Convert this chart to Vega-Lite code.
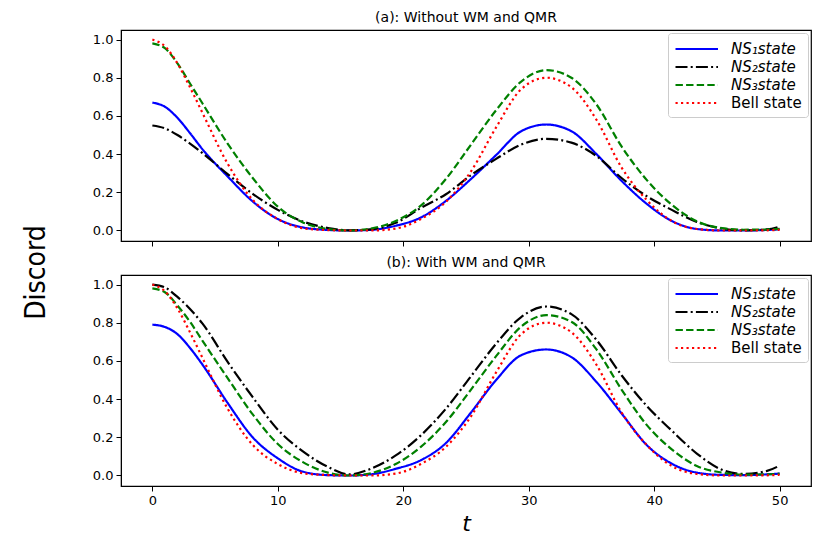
{
  "$schema": "https://vega.github.io/schema/vega-lite/v6.json",
  "padding": {"left": 22, "top": 10, "right": 5, "bottom": 5},
  "title": {
    "text": "Discord",
    "orient": "left",
    "anchor": "middle",
    "font": "Liberation Sans Narrow, DejaVu Sans Condensed, sans-serif",
    "fontSize": 28,
    "fontWeight": "normal",
    "color": "black",
    "offset": 41
  },
  "data": {
    "values": [
      {"p": "a", "s": "NS₁state", "t": 0, "v": 0.67},
      {"p": "a", "s": "NS₁state", "t": 1, "v": 0.648},
      {"p": "a", "s": "NS₁state", "t": 2, "v": 0.59},
      {"p": "a", "s": "NS₁state", "t": 3, "v": 0.51},
      {"p": "a", "s": "NS₁state", "t": 4, "v": 0.425},
      {"p": "a", "s": "NS₁state", "t": 6, "v": 0.283},
      {"p": "a", "s": "NS₁state", "t": 8, "v": 0.152},
      {"p": "a", "s": "NS₁state", "t": 10, "v": 0.06},
      {"p": "a", "s": "NS₁state", "t": 12, "v": 0.016},
      {"p": "a", "s": "NS₁state", "t": 14, "v": 0.003},
      {"p": "a", "s": "NS₁state", "t": 15.7, "v": 0},
      {"p": "a", "s": "NS₁state", "t": 17.4, "v": 0.003},
      {"p": "a", "s": "NS₁state", "t": 19.4, "v": 0.025},
      {"p": "a", "s": "NS₁state", "t": 21.4, "v": 0.068},
      {"p": "a", "s": "NS₁state", "t": 23.4, "v": 0.155},
      {"p": "a", "s": "NS₁state", "t": 25.4, "v": 0.27},
      {"p": "a", "s": "NS₁state", "t": 27.4, "v": 0.395},
      {"p": "a", "s": "NS₁state", "t": 29.4, "v": 0.52},
      {"p": "a", "s": "NS₁state", "t": 31.4, "v": 0.555},
      {"p": "a", "s": "NS₁state", "t": 33.4, "v": 0.52},
      {"p": "a", "s": "NS₁state", "t": 35.4, "v": 0.4},
      {"p": "a", "s": "NS₁state", "t": 37.4, "v": 0.26},
      {"p": "a", "s": "NS₁state", "t": 39.4, "v": 0.14},
      {"p": "a", "s": "NS₁state", "t": 41.4, "v": 0.05},
      {"p": "a", "s": "NS₁state", "t": 43.4, "v": 0.008},
      {"p": "a", "s": "NS₁state", "t": 45.4, "v": 0},
      {"p": "a", "s": "NS₁state", "t": 47.1, "v": 0},
      {"p": "a", "s": "NS₁state", "t": 49, "v": 0.003},
      {"p": "a", "s": "NS₁state", "t": 50, "v": 0.006},

      {"p": "a", "s": "NS₂state", "t": 0, "v": 0.55},
      {"p": "a", "s": "NS₂state", "t": 1, "v": 0.535},
      {"p": "a", "s": "NS₂state", "t": 2, "v": 0.5},
      {"p": "a", "s": "NS₂state", "t": 3, "v": 0.455},
      {"p": "a", "s": "NS₂state", "t": 4, "v": 0.405},
      {"p": "a", "s": "NS₂state", "t": 6, "v": 0.295},
      {"p": "a", "s": "NS₂state", "t": 8, "v": 0.192},
      {"p": "a", "s": "NS₂state", "t": 10, "v": 0.108},
      {"p": "a", "s": "NS₂state", "t": 12, "v": 0.047},
      {"p": "a", "s": "NS₂state", "t": 14, "v": 0.013},
      {"p": "a", "s": "NS₂state", "t": 15.7, "v": 0.001},
      {"p": "a", "s": "NS₂state", "t": 17.4, "v": 0.006},
      {"p": "a", "s": "NS₂state", "t": 19.4, "v": 0.04},
      {"p": "a", "s": "NS₂state", "t": 21.4, "v": 0.118},
      {"p": "a", "s": "NS₂state", "t": 23.4, "v": 0.19},
      {"p": "a", "s": "NS₂state", "t": 25.4, "v": 0.29},
      {"p": "a", "s": "NS₂state", "t": 27.4, "v": 0.375},
      {"p": "a", "s": "NS₂state", "t": 29.4, "v": 0.45},
      {"p": "a", "s": "NS₂state", "t": 31.4, "v": 0.48},
      {"p": "a", "s": "NS₂state", "t": 33.4, "v": 0.46},
      {"p": "a", "s": "NS₂state", "t": 35.4, "v": 0.39},
      {"p": "a", "s": "NS₂state", "t": 37.4, "v": 0.275},
      {"p": "a", "s": "NS₂state", "t": 39.4, "v": 0.18},
      {"p": "a", "s": "NS₂state", "t": 41.4, "v": 0.108},
      {"p": "a", "s": "NS₂state", "t": 43.4, "v": 0.045},
      {"p": "a", "s": "NS₂state", "t": 45.4, "v": 0.01},
      {"p": "a", "s": "NS₂state", "t": 47.1, "v": 0.001},
      {"p": "a", "s": "NS₂state", "t": 49, "v": 0.006},
      {"p": "a", "s": "NS₂state", "t": 50, "v": 0.02},

      {"p": "a", "s": "NS₃state", "t": 0, "v": 0.98},
      {"p": "a", "s": "NS₃state", "t": 1, "v": 0.955},
      {"p": "a", "s": "NS₃state", "t": 2, "v": 0.875},
      {"p": "a", "s": "NS₃state", "t": 3, "v": 0.77},
      {"p": "a", "s": "NS₃state", "t": 4, "v": 0.665},
      {"p": "a", "s": "NS₃state", "t": 6, "v": 0.455},
      {"p": "a", "s": "NS₃state", "t": 8, "v": 0.275},
      {"p": "a", "s": "NS₃state", "t": 10, "v": 0.125},
      {"p": "a", "s": "NS₃state", "t": 12, "v": 0.042},
      {"p": "a", "s": "NS₃state", "t": 14, "v": 0.008},
      {"p": "a", "s": "NS₃state", "t": 15.7, "v": 0},
      {"p": "a", "s": "NS₃state", "t": 17.4, "v": 0.01},
      {"p": "a", "s": "NS₃state", "t": 19.4, "v": 0.05},
      {"p": "a", "s": "NS₃state", "t": 21.4, "v": 0.13},
      {"p": "a", "s": "NS₃state", "t": 23.4, "v": 0.27},
      {"p": "a", "s": "NS₃state", "t": 25.4, "v": 0.45},
      {"p": "a", "s": "NS₃state", "t": 27.4, "v": 0.63},
      {"p": "a", "s": "NS₃state", "t": 29.4, "v": 0.78},
      {"p": "a", "s": "NS₃state", "t": 31.4, "v": 0.84},
      {"p": "a", "s": "NS₃state", "t": 33.4, "v": 0.8},
      {"p": "a", "s": "NS₃state", "t": 35.4, "v": 0.66},
      {"p": "a", "s": "NS₃state", "t": 37.4, "v": 0.44},
      {"p": "a", "s": "NS₃state", "t": 39.4, "v": 0.265},
      {"p": "a", "s": "NS₃state", "t": 41.4, "v": 0.135},
      {"p": "a", "s": "NS₃state", "t": 43.4, "v": 0.048},
      {"p": "a", "s": "NS₃state", "t": 45.4, "v": 0.012},
      {"p": "a", "s": "NS₃state", "t": 47.1, "v": 0.004},
      {"p": "a", "s": "NS₃state", "t": 49, "v": 0.005},
      {"p": "a", "s": "NS₃state", "t": 50, "v": 0.009},

      {"p": "a", "s": "Bell state", "t": 0, "v": 1},
      {"p": "a", "s": "Bell state", "t": 1, "v": 0.965},
      {"p": "a", "s": "Bell state", "t": 2, "v": 0.875},
      {"p": "a", "s": "Bell state", "t": 3, "v": 0.75},
      {"p": "a", "s": "Bell state", "t": 4, "v": 0.615},
      {"p": "a", "s": "Bell state", "t": 6, "v": 0.35},
      {"p": "a", "s": "Bell state", "t": 8, "v": 0.16},
      {"p": "a", "s": "Bell state", "t": 10, "v": 0.06},
      {"p": "a", "s": "Bell state", "t": 12, "v": 0.012},
      {"p": "a", "s": "Bell state", "t": 14, "v": 0.002},
      {"p": "a", "s": "Bell state", "t": 15.7, "v": 0},
      {"p": "a", "s": "Bell state", "t": 17.4, "v": 0},
      {"p": "a", "s": "Bell state", "t": 19.4, "v": 0.01},
      {"p": "a", "s": "Bell state", "t": 21.4, "v": 0.06},
      {"p": "a", "s": "Bell state", "t": 23.4, "v": 0.15},
      {"p": "a", "s": "Bell state", "t": 25.4, "v": 0.31},
      {"p": "a", "s": "Bell state", "t": 27.4, "v": 0.54},
      {"p": "a", "s": "Bell state", "t": 29.4, "v": 0.74},
      {"p": "a", "s": "Bell state", "t": 31.4, "v": 0.8},
      {"p": "a", "s": "Bell state", "t": 33.4, "v": 0.75},
      {"p": "a", "s": "Bell state", "t": 35.4, "v": 0.58},
      {"p": "a", "s": "Bell state", "t": 37.4, "v": 0.33},
      {"p": "a", "s": "Bell state", "t": 39.4, "v": 0.16},
      {"p": "a", "s": "Bell state", "t": 41.4, "v": 0.05},
      {"p": "a", "s": "Bell state", "t": 43.4, "v": 0.008},
      {"p": "a", "s": "Bell state", "t": 45.4, "v": 0},
      {"p": "a", "s": "Bell state", "t": 47.1, "v": 0},
      {"p": "a", "s": "Bell state", "t": 49, "v": 0.001},
      {"p": "a", "s": "Bell state", "t": 50, "v": 0.004},

      {"p": "b", "s": "NS₁state", "t": 0, "v": 0.79},
      {"p": "b", "s": "NS₁state", "t": 1, "v": 0.778},
      {"p": "b", "s": "NS₁state", "t": 2, "v": 0.74},
      {"p": "b", "s": "NS₁state", "t": 3, "v": 0.668},
      {"p": "b", "s": "NS₁state", "t": 4, "v": 0.58},
      {"p": "b", "s": "NS₁state", "t": 6, "v": 0.38},
      {"p": "b", "s": "NS₁state", "t": 8, "v": 0.2},
      {"p": "b", "s": "NS₁state", "t": 10, "v": 0.09},
      {"p": "b", "s": "NS₁state", "t": 12, "v": 0.02},
      {"p": "b", "s": "NS₁state", "t": 14, "v": 0.002},
      {"p": "b", "s": "NS₁state", "t": 15.7, "v": 0},
      {"p": "b", "s": "NS₁state", "t": 17.4, "v": 0.006},
      {"p": "b", "s": "NS₁state", "t": 19.4, "v": 0.035},
      {"p": "b", "s": "NS₁state", "t": 21.4, "v": 0.08},
      {"p": "b", "s": "NS₁state", "t": 23.4, "v": 0.17},
      {"p": "b", "s": "NS₁state", "t": 25.4, "v": 0.33},
      {"p": "b", "s": "NS₁state", "t": 27.4, "v": 0.5},
      {"p": "b", "s": "NS₁state", "t": 29.4, "v": 0.63},
      {"p": "b", "s": "NS₁state", "t": 31.4, "v": 0.66},
      {"p": "b", "s": "NS₁state", "t": 33.4, "v": 0.62},
      {"p": "b", "s": "NS₁state", "t": 35.4, "v": 0.49},
      {"p": "b", "s": "NS₁state", "t": 37.4, "v": 0.325},
      {"p": "b", "s": "NS₁state", "t": 39.4, "v": 0.16},
      {"p": "b", "s": "NS₁state", "t": 41.4, "v": 0.062},
      {"p": "b", "s": "NS₁state", "t": 43.4, "v": 0.015},
      {"p": "b", "s": "NS₁state", "t": 45.4, "v": 0.003},
      {"p": "b", "s": "NS₁state", "t": 47.1, "v": 0.002},
      {"p": "b", "s": "NS₁state", "t": 49, "v": 0.006},
      {"p": "b", "s": "NS₁state", "t": 50, "v": 0.01},

      {"p": "b", "s": "NS₂state", "t": 0, "v": 1},
      {"p": "b", "s": "NS₂state", "t": 1, "v": 0.985},
      {"p": "b", "s": "NS₂state", "t": 2, "v": 0.935},
      {"p": "b", "s": "NS₂state", "t": 3, "v": 0.872},
      {"p": "b", "s": "NS₂state", "t": 4, "v": 0.795},
      {"p": "b", "s": "NS₂state", "t": 6, "v": 0.595},
      {"p": "b", "s": "NS₂state", "t": 8, "v": 0.41},
      {"p": "b", "s": "NS₂state", "t": 10, "v": 0.24},
      {"p": "b", "s": "NS₂state", "t": 12, "v": 0.126},
      {"p": "b", "s": "NS₂state", "t": 14, "v": 0.045},
      {"p": "b", "s": "NS₂state", "t": 15.7, "v": 0.006},
      {"p": "b", "s": "NS₂state", "t": 17.4, "v": 0.035},
      {"p": "b", "s": "NS₂state", "t": 19.4, "v": 0.105},
      {"p": "b", "s": "NS₂state", "t": 21.4, "v": 0.21},
      {"p": "b", "s": "NS₂state", "t": 23.4, "v": 0.35},
      {"p": "b", "s": "NS₂state", "t": 25.4, "v": 0.52},
      {"p": "b", "s": "NS₂state", "t": 27.4, "v": 0.69},
      {"p": "b", "s": "NS₂state", "t": 29.4, "v": 0.83},
      {"p": "b", "s": "NS₂state", "t": 31.4, "v": 0.885},
      {"p": "b", "s": "NS₂state", "t": 33.4, "v": 0.845},
      {"p": "b", "s": "NS₂state", "t": 35.4, "v": 0.71},
      {"p": "b", "s": "NS₂state", "t": 37.4, "v": 0.525},
      {"p": "b", "s": "NS₂state", "t": 39.4, "v": 0.365},
      {"p": "b", "s": "NS₂state", "t": 41.4, "v": 0.235},
      {"p": "b", "s": "NS₂state", "t": 43.4, "v": 0.115},
      {"p": "b", "s": "NS₂state", "t": 45.4, "v": 0.03},
      {"p": "b", "s": "NS₂state", "t": 47.1, "v": 0.008},
      {"p": "b", "s": "NS₂state", "t": 49, "v": 0.024},
      {"p": "b", "s": "NS₂state", "t": 50, "v": 0.052},

      {"p": "b", "s": "NS₃state", "t": 0, "v": 0.98},
      {"p": "b", "s": "NS₃state", "t": 1, "v": 0.96},
      {"p": "b", "s": "NS₃state", "t": 2, "v": 0.89},
      {"p": "b", "s": "NS₃state", "t": 3, "v": 0.805},
      {"p": "b", "s": "NS₃state", "t": 4, "v": 0.705},
      {"p": "b", "s": "NS₃state", "t": 6, "v": 0.51},
      {"p": "b", "s": "NS₃state", "t": 8, "v": 0.32},
      {"p": "b", "s": "NS₃state", "t": 10, "v": 0.165},
      {"p": "b", "s": "NS₃state", "t": 12, "v": 0.07},
      {"p": "b", "s": "NS₃state", "t": 14, "v": 0.015},
      {"p": "b", "s": "NS₃state", "t": 15.7, "v": 0},
      {"p": "b", "s": "NS₃state", "t": 17.4, "v": 0.012},
      {"p": "b", "s": "NS₃state", "t": 19.4, "v": 0.06},
      {"p": "b", "s": "NS₃state", "t": 21.4, "v": 0.15},
      {"p": "b", "s": "NS₃state", "t": 23.4, "v": 0.28},
      {"p": "b", "s": "NS₃state", "t": 25.4, "v": 0.45},
      {"p": "b", "s": "NS₃state", "t": 27.4, "v": 0.625},
      {"p": "b", "s": "NS₃state", "t": 29.4, "v": 0.78},
      {"p": "b", "s": "NS₃state", "t": 31.4, "v": 0.84},
      {"p": "b", "s": "NS₃state", "t": 33.4, "v": 0.805},
      {"p": "b", "s": "NS₃state", "t": 35.4, "v": 0.66},
      {"p": "b", "s": "NS₃state", "t": 37.4, "v": 0.45},
      {"p": "b", "s": "NS₃state", "t": 39.4, "v": 0.265},
      {"p": "b", "s": "NS₃state", "t": 41.4, "v": 0.137},
      {"p": "b", "s": "NS₃state", "t": 43.4, "v": 0.05},
      {"p": "b", "s": "NS₃state", "t": 45.4, "v": 0.015},
      {"p": "b", "s": "NS₃state", "t": 47.1, "v": 0.005},
      {"p": "b", "s": "NS₃state", "t": 49, "v": 0.006},
      {"p": "b", "s": "NS₃state", "t": 50, "v": 0.01},

      {"p": "b", "s": "Bell state", "t": 0, "v": 1},
      {"p": "b", "s": "Bell state", "t": 1, "v": 0.965},
      {"p": "b", "s": "Bell state", "t": 2, "v": 0.875},
      {"p": "b", "s": "Bell state", "t": 3, "v": 0.75},
      {"p": "b", "s": "Bell state", "t": 4, "v": 0.615},
      {"p": "b", "s": "Bell state", "t": 6, "v": 0.35},
      {"p": "b", "s": "Bell state", "t": 8, "v": 0.16},
      {"p": "b", "s": "Bell state", "t": 10, "v": 0.06},
      {"p": "b", "s": "Bell state", "t": 12, "v": 0.012},
      {"p": "b", "s": "Bell state", "t": 14, "v": 0.002},
      {"p": "b", "s": "Bell state", "t": 15.7, "v": 0},
      {"p": "b", "s": "Bell state", "t": 17.4, "v": 0},
      {"p": "b", "s": "Bell state", "t": 19.4, "v": 0.01},
      {"p": "b", "s": "Bell state", "t": 21.4, "v": 0.06},
      {"p": "b", "s": "Bell state", "t": 23.4, "v": 0.15},
      {"p": "b", "s": "Bell state", "t": 25.4, "v": 0.31},
      {"p": "b", "s": "Bell state", "t": 27.4, "v": 0.54},
      {"p": "b", "s": "Bell state", "t": 29.4, "v": 0.74},
      {"p": "b", "s": "Bell state", "t": 31.4, "v": 0.8},
      {"p": "b", "s": "Bell state", "t": 33.4, "v": 0.75},
      {"p": "b", "s": "Bell state", "t": 35.4, "v": 0.58},
      {"p": "b", "s": "Bell state", "t": 37.4, "v": 0.33},
      {"p": "b", "s": "Bell state", "t": 39.4, "v": 0.16},
      {"p": "b", "s": "Bell state", "t": 41.4, "v": 0.05},
      {"p": "b", "s": "Bell state", "t": 43.4, "v": 0.008},
      {"p": "b", "s": "Bell state", "t": 45.4, "v": 0},
      {"p": "b", "s": "Bell state", "t": 47.1, "v": 0},
      {"p": "b", "s": "Bell state", "t": 49, "v": 0.001},
      {"p": "b", "s": "Bell state", "t": 50, "v": 0.004}
    ]
  },
  "spacing": 7,
  "vconcat": [
    {
      "title": {"text": "(a): Without WM and QMR", "anchor": "middle", "frame": "group"},
      "width": 690,
      "height": 211,
      "transform": [{"filter": "datum.p == 'a'"}],
      "mark": {"type": "line", "interpolate": "monotone", "strokeWidth": 2.2},
      "encoding": {
        "x": {
          "field": "t", "type": "quantitative",
          "scale": {"domain": [-2.5, 52.5], "nice": false, "zero": false},
          "axis": {"values": [0, 10, 20, 30, 40, 50], "labels": false, "title": null}
        },
        "y": {
          "field": "v", "type": "quantitative",
          "scale": {"domain": [-0.055, 1.05], "nice": false, "zero": false},
          "axis": {"values": [0, 0.2, 0.4, 0.6, 0.8, 1.0], "format": ".1f", "title": null}
        },
        "color": {
          "field": "s", "type": "nominal", "sort": null,
          "scale": {"domain": ["NS₁state", "NS₂state", "NS₃state", "Bell state"], "range": ["#0000ff", "#000000", "#008000", "#ff0000"]},
          "legend": {"encode": {"labels": {"update": {"fontStyle": {"signal": "datum.value === 'Bell state' ? 'normal' : 'italic'"}}}}}
        },
        "strokeDash": {
          "field": "s", "type": "nominal", "sort": null,
          "scale": {"domain": ["NS₁state", "NS₂state", "NS₃state", "Bell state"], "range": [[1, 0], [12, 3.2, 2, 3.2], [7.4, 3.2], [2.2, 3.3]]},
          "legend": {"encode": {"labels": {"update": {"fontStyle": {"signal": "datum.value === 'Bell state' ? 'normal' : 'italic'"}}}}}
        }
      }
    },
    {
      "title": {"text": "(b): With WM and QMR", "anchor": "middle", "frame": "group"},
      "width": 690,
      "height": 211,
      "transform": [{"filter": "datum.p == 'b'"}],
      "mark": {"type": "line", "interpolate": "monotone", "strokeWidth": 2.2},
      "encoding": {
        "x": {
          "field": "t", "type": "quantitative",
          "scale": {"domain": [-2.5, 52.5], "nice": false, "zero": false},
          "axis": {"values": [0, 10, 20, 30, 40, 50], "format": "d", "title": "t",
                   "titleFontStyle": "italic", "titleFontSize": 22, "titleFontWeight": "normal", "titlePadding": 6}
        },
        "y": {
          "field": "v", "type": "quantitative",
          "scale": {"domain": [-0.055, 1.05], "nice": false, "zero": false},
          "axis": {"values": [0, 0.2, 0.4, 0.6, 0.8, 1.0], "format": ".1f", "title": null}
        },
        "color": {
          "field": "s", "type": "nominal", "sort": null,
          "scale": {"domain": ["NS₁state", "NS₂state", "NS₃state", "Bell state"], "range": ["#0000ff", "#000000", "#008000", "#ff0000"]},
          "legend": {"encode": {"labels": {"update": {"fontStyle": {"signal": "datum.value === 'Bell state' ? 'normal' : 'italic'"}}}}}
        },
        "strokeDash": {
          "field": "s", "type": "nominal", "sort": null,
          "scale": {"domain": ["NS₁state", "NS₂state", "NS₃state", "Bell state"], "range": [[1, 0], [12, 3.2, 2, 3.2], [7.4, 3.2], [2.2, 3.3]]},
          "legend": {"encode": {"labels": {"update": {"fontStyle": {"signal": "datum.value === 'Bell state' ? 'normal' : 'italic'"}}}}}
        }
      }
    }
  ],
  "resolve": {
    "scale": {"color": "independent", "strokeDash": "independent"},
    "legend": {"color": "independent", "strokeDash": "independent"}
  },
  "config": {
    "background": "white",
    "font": "DejaVu Sans",
    "view": {"stroke": "black", "strokeWidth": 1.2},
    "axis": {
      "grid": false,
      "domainColor": "black",
      "tickColor": "black",
      "labelColor": "black",
      "titleColor": "black",
      "labelFont": "DejaVu Sans",
      "titleFont": "DejaVu Sans",
      "labelFontSize": 13,
      "tickSize": 5,
      "labelPadding": 3
    },
    "title": {"font": "DejaVu Sans", "fontSize": 14, "fontWeight": "normal", "color": "black", "offset": 5},
    "legend": {
      "orient": "top-right",
      "title": null,
      "offset": 3,
      "padding": 6,
      "strokeColor": "#cccccc",
      "fillColor": "white",
      "cornerRadius": 3,
      "labelFont": "DejaVu Sans",
      "labelFontSize": 15,
      "labelColor": "black",
      "labelOffset": 37,
      "symbolType": "M-1,0L4,0",
      "symbolSize": 289,
      "symbolStrokeWidth": 2.2,
      "rowPadding": 0
    }
  }
}
